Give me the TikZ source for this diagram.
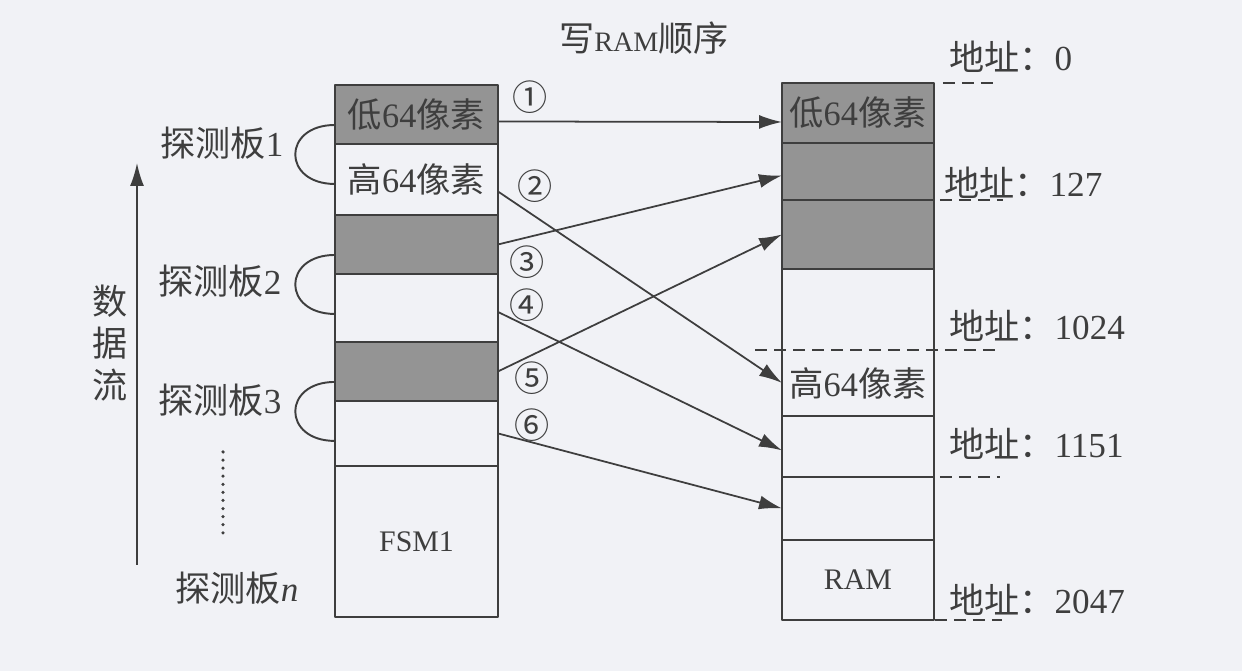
\documentclass[tikz,border=0pt]{standalone}
\usepackage{fontspec}
\setmainfont{Liberation Serif}
\newfontfamily\cjk{Noto Sans CJK SC}
\usetikzlibrary{arrows.meta, positioning, calc}
\definecolor{paper}{RGB}{241,242,246}
\definecolor{ink}{RGB}{62,62,62}
\definecolor{shade}{RGB}{148,148,148}
\tikzset{
  box/.style={draw=ink, line width=1.1pt},
  cell/.style={box, inner sep=0pt, outer sep=0pt, minimum width=3.26cm, anchor=north,
    text=ink, font=\fontsize{19.5}{22}\selectfont},
  ramcell/.style={inner sep=0pt, outer sep=0pt, minimum width=3.04cm, anchor=north,
    text=ink, font=\fontsize{19.5}{22}\selectfont},
  dark/.style={fill=shade},
  wr/.style={draw=ink, line width=1pt, -{Latex[length=0.46cm,width=0.28cm]}},
  addr/.style={draw=ink, line width=1pt, dash pattern=on 0.24cm off 0.14cm},
  lbl/.style={text=ink, font=\fontsize{20}{22}\selectfont},
}
\begin{document}
\begin{tikzpicture}[x=0.02cm, y=-0.02cm, line join=round]
  \fill[paper] (0,0) rectangle (1242,671);
  \useasboundingbox (0,0) rectangle (1242,671);
  \node[lbl] (title) at (644,38) {{\cjk 写}{\fontsize{16}{20}\selectfont RAM}{\cjk 顺序}};
  % FSM1 side
  \node[cell,dark,minimum height=1.18cm] (f1) at (416.5,85) {{\cjk 低}64{\cjk 像素}};
  \node[cell,minimum height=1.42cm,below=0pt of f1] (f2) {{\cjk 高}64{\cjk 像素}};
  \node[cell,dark,minimum height=1.18cm,below=0pt of f2] (f3) {};
  \node[cell,minimum height=1.36cm,below=0pt of f3] (f4) {};
  \node[cell,dark,minimum height=1.18cm,below=0pt of f4] (f5) {};
  \node[cell,minimum height=1.30cm,below=0pt of f5] (f6) {};
  \node[cell,minimum height=3.02cm,below=0pt of f6,font=\fontsize{17}{20}\selectfont] (f7) {FSM1};
  \foreach \a/\b in {f1/f2,f3/f4,f5/f6}
    \draw[box] ($(\a.south west)+(0,-19)$) .. controls +(-53,0) and +(-53,0) .. ($(\b.north west)+(0,40)$);
  \node[lbl] (p1) at (222,143) {{\cjk 探测板}1};
  \node[lbl] (p2) at (220,281) {{\cjk 探测板}2};
  \node[lbl] (p3) at (220,400) {{\cjk 探测板}3};
  \node[lbl] (pn) at (237,588) {{\cjk 探测板}\textit{n}};
  \coordinate (dtop) at (223,452);
  \coordinate (dbot) at (223,535);
  \draw[draw=ink, line width=2pt, line cap=round, dash pattern=on 0pt off 4.6pt] (dtop) -- (dbot);
  \coordinate (flowbot) at (137,565);
  \coordinate (flowtop) at (137,163);
  \draw[wr] (flowbot) -- (flowtop);
  \node[lbl, align=center, font=\cjk\fontsize{20}{24}\selectfont] (flow) at (110,343) {数\\据\\流};
  % RAM side
  \node[ramcell,dark,minimum height=1.20cm] (r1) at (858,83) {{\cjk 低}64{\cjk 像素}};
  \node[ramcell,dark,minimum height=1.14cm,below=0pt of r1] (r2) {};
  \node[ramcell,dark,minimum height=1.38cm,below=0pt of r2] (r3) {};
  \node[ramcell,minimum height=1.62cm,below=0pt of r3] (r4) {};
  \node[ramcell,minimum height=1.32cm,below=0pt of r4] (r5) {{\cjk 高}64{\cjk 像素}};
  \node[ramcell,minimum height=1.22cm,below=0pt of r5] (r6) {};
  \node[ramcell,minimum height=1.26cm,below=0pt of r6] (r7) {};
  \node[ramcell,minimum height=1.60cm,below=0pt of r7,font=\fontsize{17}{20}\selectfont] (r8) {RAM};
  \draw[box] (r1.north west) rectangle (r8.south east);
  \foreach \c in {r1,r2,r3,r5,r6,r7}
    \draw[box] (\c.south west) -- (\c.south east);
  \draw[addr] ($(r1.north east)+(9,0)$) -- +(54,0);
  \draw[addr] ($(r2.south east)+(6,0)$) -- +(63,0);
  \draw[addr] ($(r4.south west)+(-27,0)$) -- +(242,0);
  \draw[addr] ($(r6.south east)+(6,0)$) -- +(60,0);
  \draw[addr] ($(r8.south east)+(1,0)$) -- +(67,0);
  \node[lbl,anchor=west] (a0) at (943,57) {{\cjk 地址：}0};
  \node[lbl,anchor=west] (a1) at (938,183) {{\cjk 地址：}127};
  \node[lbl,anchor=west] (a2) at (943,326) {{\cjk 地址：}1024};
  \node[lbl,anchor=west] (a3) at (943,444) {{\cjk 地址：}1151};
  \node[lbl,anchor=west] (a4) at (943,600) {{\cjk 地址：}2047};
  % write order
  \draw[wr] ($(f1.east)+(0,7)$) -- ($(r1.west)+(0,9)$);
  \draw[wr] ($(f2.east)+(0,12)$) -- (r5.west);
  \draw[wr] (f3.east) -- ($(r2.west)+(0,4)$);
  \draw[wr] ($(f4.east)+(0,4)$) -- ($(r6.west)+(0,4)$);
  \draw[wr] (f5.east) -- (r3.west);
  \draw[wr] (f6.east) -- (r7.west);
  \node[lbl] (n1) at (530,97) {\cjk ①};
  \node[lbl] (n2) at (535,186) {\cjk ②};
  \node[lbl] (n3) at (527,262) {\cjk ③};
  \node[lbl] (n4) at (527,305) {\cjk ④};
  \node[lbl] (n5) at (532,378) {\cjk ⑤};
  \node[lbl] (n6) at (532,425) {\cjk ⑥};
\end{tikzpicture}
\end{document}
